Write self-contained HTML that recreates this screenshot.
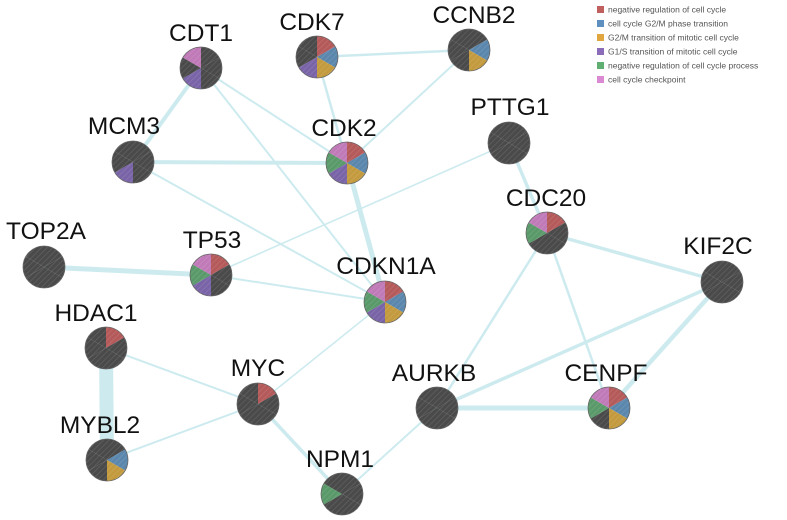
<!DOCTYPE html>
<html><head><meta charset="utf-8"><style>
html,body{margin:0;padding:0;background:#fff;width:787px;height:520px;overflow:hidden}
svg text{font-family:"Liberation Sans",Arial,sans-serif}
.l{font-size:24.5px;fill:#111;text-anchor:middle}
.lg{font-size:8.5px;fill:#555}
</style></head><body>
<svg id="s" width="787" height="520" viewBox="0 0 787 520">
<defs><pattern id="h" width="4" height="4" patternUnits="userSpaceOnUse" patternTransform="rotate(45)"><rect width="4" height="4" fill="none"/><line x1="0" y1="0" x2="0" y2="4" stroke="rgba(255,255,255,0.12)" stroke-width="1.5"/></pattern></defs>
<g id="edges"></g>
<g id="nodes"></g>
<g id="labels">
<text class="l" x="201" y="41">CDT1</text>
<text class="l" x="312" y="30">CDK7</text>
<text class="l" x="474" y="23">CCNB2</text>
<text class="l" x="124" y="134">MCM3</text>
<text class="l" x="344" y="136">CDK2</text>
<text class="l" x="510" y="115">PTTG1</text>
<text class="l" x="546" y="206">CDC20</text>
<text class="l" x="46" y="239">TOP2A</text>
<text class="l" x="212" y="248">TP53</text>
<text class="l" x="386" y="274">CDKN1A</text>
<text class="l" x="718" y="254">KIF2C</text>
<text class="l" x="96" y="321">HDAC1</text>
<text class="l" x="258" y="376">MYC</text>
<text class="l" x="434" y="381">AURKB</text>
<text class="l" x="606" y="381">CENPF</text>
<text class="l" x="100" y="433">MYBL2</text>
<text class="l" x="340" y="467">NPM1</text>
</g>
<g>
<rect x="597" y="6" width="7" height="7" fill="#c0605e"/><text class="lg" x="608" y="12.5">negative regulation of cell cycle</text>
<rect x="597" y="20" width="7" height="7" fill="#5f8fbf"/><text class="lg" x="608" y="26.5">cell cycle G2/M phase transition</text>
<rect x="597" y="34" width="7" height="7" fill="#e0a640"/><text class="lg" x="608" y="40.5">G2/M transition of mitotic cell cycle</text>
<rect x="597" y="48" width="7" height="7" fill="#8a6cb8"/><text class="lg" x="608" y="54.5">G1/S transition of mitotic cell cycle</text>
<rect x="597" y="62" width="7" height="7" fill="#5fae72"/><text class="lg" x="608" y="68.5">negative regulation of cell cycle process</text>
<rect x="597" y="76" width="7" height="7" fill="#d98ad2"/><text class="lg" x="608" y="82.5">cell cycle checkpoint</text>
</g>
</svg>
<script>
var N={CDT1:[201,68],CDK7:[317,57],CCNB2:[469,50],MCM3:[133,162],CDK2:[347,163],PTTG1:[509,143],CDC20:[547,233],TOP2A:[44,267],TP53:[211,275],CDKN1A:[385,302],KIF2C:[722,282],HDAC1:[106,348],MYC:[258,404],AURKB:[437,408],CENPF:[609,408],MYBL2:[107,460],NPM1:[342,494]};
var C={r:"#b55a5a",b:"#5b87ad",o:"#c39a3e",p:"#7a64a8",g:"#5a9a6a",k:"#c07ab8",d:"#4a4a4a"};
var P={CDT1:"dddpdk",CDK7:"rbopdd",CCNB2:"dboddd",MCM3:"dddpdd",CDK2:"rbopgk",PTTG1:"dddddd",CDC20:"rdddgk",TOP2A:"dddddd",TP53:"rddpgk",CDKN1A:"rbopgk",KIF2C:"dddddd",HDAC1:"rddddd",MYC:"rddddd",AURKB:"dddddd",CENPF:"rbodgk",MYBL2:"dboddd",NPM1:"ddddgd"};
var E=[["CDT1","MCM3",4],["CDT1","CDK2",2],["CDT1","CDKN1A",2],["CDK7","CCNB2",2.5],["CDK7","CDK2",2.5],["CCNB2","CDK2",2],["MCM3","CDK2",4],["MCM3","CDKN1A",2],["CDK2","CDKN1A",5],["PTTG1","TP53",1.6],["PTTG1","CDC20",3.5],["CDC20","KIF2C",3.5],["CDC20","CENPF",2.5],["CDC20","AURKB",2.5],["KIF2C","CENPF",4.5],["KIF2C","AURKB",3.5],["AURKB","CENPF",5],["TOP2A","TP53",5],["TP53","CDKN1A",2],["HDAC1","MYBL2",14],["HDAC1","MYC",2],["MYC","MYBL2",2],["MYC","NPM1",3.5],["MYC","CDKN1A",1.6],["NPM1","AURKB",2]];
var ns="http://www.w3.org/2000/svg";
var eg=document.getElementById("edges"),ng=document.getElementById("nodes");
E.forEach(function(e){var a=N[e[0]],b=N[e[1]];var l=document.createElementNS(ns,"line");l.setAttribute("x1",a[0]);l.setAttribute("y1",a[1]);l.setAttribute("x2",b[0]);l.setAttribute("y2",b[1]);l.setAttribute("stroke","#cdebef");l.setAttribute("stroke-width",e[2]);eg.appendChild(l);});
var R=21;
for(var k in N){var c=N[k],s=P[k];for(var i=0;i<6;i++){var a0=(i*60-90)*Math.PI/180,a1=((i+1)*60-90)*Math.PI/180;var p=document.createElementNS(ns,"path");p.setAttribute("d","M"+c[0]+","+c[1]+"L"+(c[0]+R*Math.cos(a0))+","+(c[1]+R*Math.sin(a0))+"A"+R+","+R+" 0 0 1 "+(c[0]+R*Math.cos(a1))+","+(c[1]+R*Math.sin(a1))+"Z");p.setAttribute("fill",C[s[i]]);ng.appendChild(p);}
var o=document.createElementNS(ns,"circle");o.setAttribute("cx",c[0]);o.setAttribute("cy",c[1]);o.setAttribute("r",R);o.setAttribute("fill","url(#h)");o.setAttribute("stroke","#666");o.setAttribute("stroke-width","0.8");ng.appendChild(o);}
</script>
</body></html>
